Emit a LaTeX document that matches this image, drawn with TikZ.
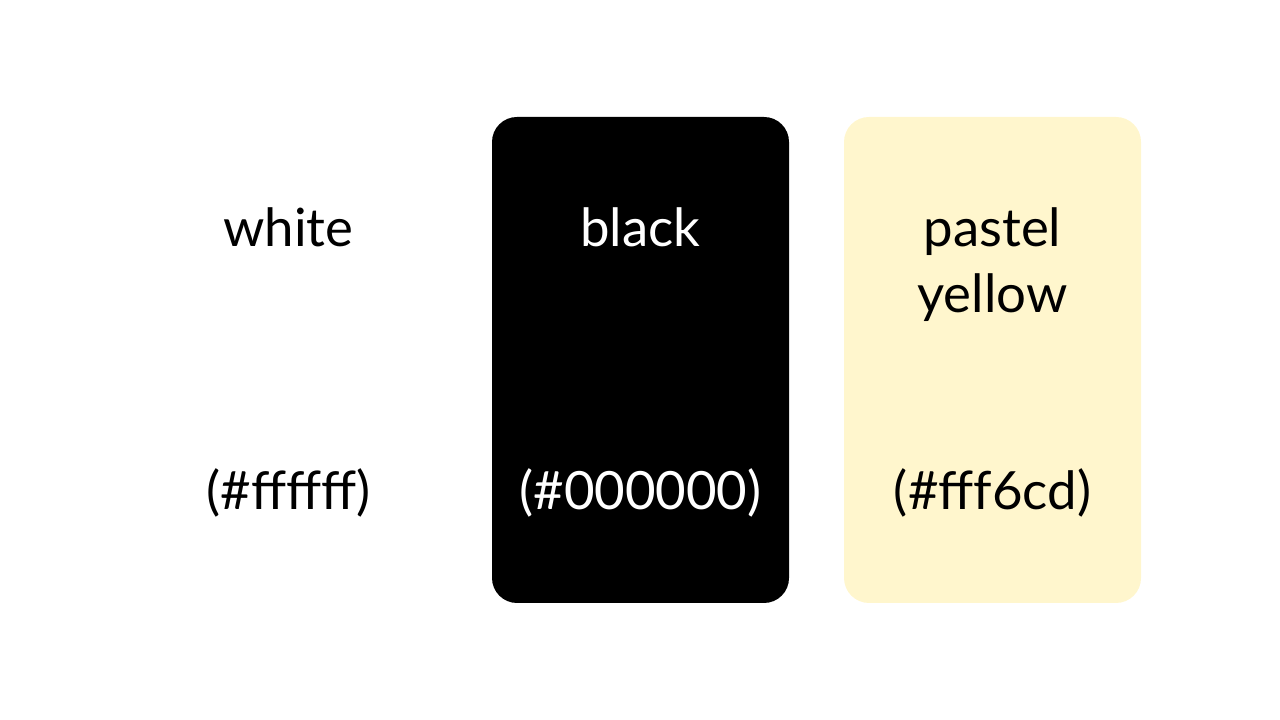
\documentclass[tikz,border=0pt]{standalone}
\usepackage{fontspec}
\setmainfont{Lato}
\usetikzlibrary{positioning}
\definecolor{pastelyellow}{HTML}{FFF6CD}

\begin{document}
\begin{tikzpicture}[
    card/.style={rectangle, rounded corners=0.25cm, minimum width=2.97cm, minimum height=4.86cm, inner sep=0pt, outer sep=0pt},
    cname/.style={inner sep=0pt, align=center, font=\fontsize{15}{18.8}\selectfont},
    ccode/.style={anchor=base, inner sep=0pt, font=\fontsize{15}{18}\selectfont}
]

    \useasboundingbox (0,0) rectangle (12.8,7.2);

    \node(cw)[card] at (2.885,3.6){};
    \node(cb)[card,fill=black,right=0.55cm of cw]{};
    \node(cy)[card,fill=pastelyellow,right=0.55cm of cb]{};

    \node(nw)[cname,below=0.9cm of cw.north]{white};
    \node(nb)[cname,text=white,below=0.9cm of cb.north]{black};
    \node(ny)[cname,below=0.9cm of cy.north]{pastel\\yellow};

    \node(hw)[ccode] at ([yshift=0.93cm]cw.south){(\#ffffff)};
    \node(hb)[ccode,text=white] at ([yshift=0.93cm]cb.south){(\#000000)};
    \node(hy)[ccode] at ([yshift=0.93cm]cy.south){(\#fff6cd)};

\end{tikzpicture}
\end{document}
